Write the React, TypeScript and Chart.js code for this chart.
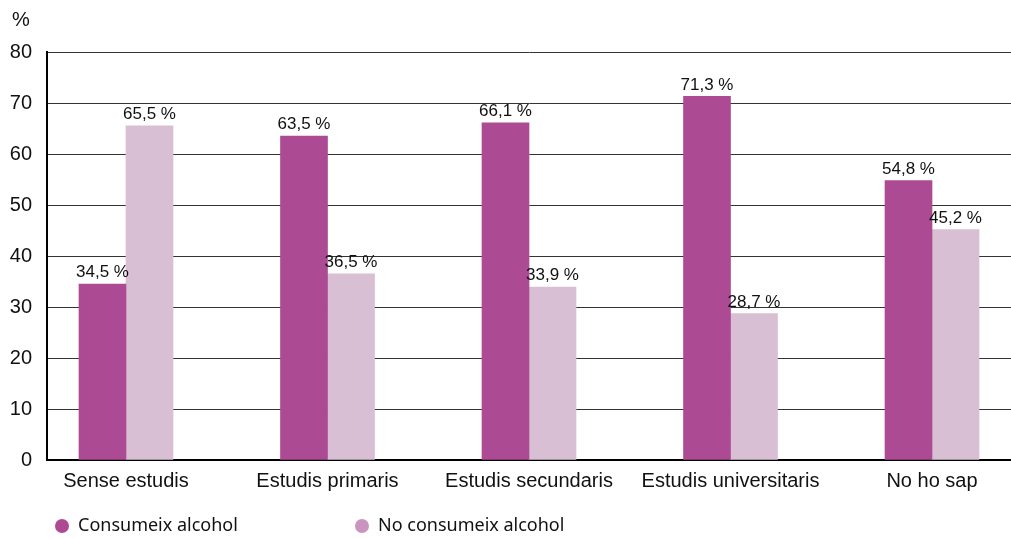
import React, { useEffect, useRef } from 'react';
import { Chart, registerables } from 'chart.js';

Chart.register(...registerables);

const categories = ['Sense estudis', 'Estudis primaris', 'Estudis secundaris', 'Estudis universitaris', 'No ho sap'];
const consumeix = [34.5, 63.5, 66.1, 71.3, 54.8];
const noConsumeix = [65.5, 36.5, 33.9, 28.7, 45.2];
const seriesNames = ['Consumeix alcohol', 'No consumeix alcohol'];
const barColors = ['#AC4B94', '#D9BFD4'];
const legendColors = ['#AC4B94', '#C994BD'];
const yMin = 0;
const yMax = 80;
const yStep = 10;
const unitLabel = '%';

const NUM_FONT = '"Liberation Sans", Arial, Helvetica, sans-serif';
const LEGEND_FONT = '"Noto Sans", "Open Sans", sans-serif';

const fmt = (v: number) => v.toFixed(1).replace('.', ',') + ' %';

const labelsPlugin = {
  id: 'valueLabels',
  afterDatasetsDraw(chart: any) {
    const ctx = chart.ctx;
    ctx.save();
    ctx.font = `17px ${NUM_FONT}`;
    ctx.fillStyle = '#111';
    ctx.textAlign = 'center';
    ctx.textBaseline = 'bottom';
    chart.data.datasets.forEach((ds: any, i: number) => {
      const meta = chart.getDatasetMeta(i);
      meta.data.forEach((el: any, j: number) => {
        ctx.fillText(fmt(ds.data[j]), el.x, el.y - 3);
      });
    });
    ctx.restore();
  },
};

const extrasPlugin = {
  id: 'extras',
  afterDraw(chart: any) {
    const ctx = chart.ctx;
    ctx.save();
    // unit label
    ctx.font = `20px ${NUM_FONT}`;
    ctx.fillStyle = '#111';
    ctx.textAlign = 'left';
    ctx.textBaseline = 'alphabetic';
    ctx.fillText(unitLabel, 12, 26);
    // legend
    const legendY = 526;
    const xs = [62, 362];
    ctx.font = `18px ${LEGEND_FONT}`;
    ctx.textBaseline = 'middle';
    seriesNames.forEach((name, i) => {
      ctx.beginPath();
      ctx.fillStyle = legendColors[i];
      ctx.arc(xs[i], legendY, 7, 0, Math.PI * 2);
      ctx.fill();
      ctx.fillStyle = '#111';
      ctx.fillText(name, xs[i] + 16, legendY);
    });
    ctx.restore();
  },
};

export default function App() {
  const ref = useRef<HTMLCanvasElement | null>(null);

  useEffect(() => {
    if (!ref.current) return;
    const chart = new Chart(ref.current, {
      type: 'bar',
      data: {
        labels: categories,
        datasets: [
          { label: seriesNames[0], data: consumeix, backgroundColor: barColors[0], barThickness: 47 },
          { label: seriesNames[1], data: noConsumeix, backgroundColor: barColors[1], barThickness: 47 },
        ],
      },
      options: {
        responsive: false,
        animation: false,
        layout: { padding: { top: 52, right: 0, bottom: 0, left: 0 } },
        plugins: {
          legend: { display: false },
          tooltip: { enabled: false },
          title: { display: false },
        },
        scales: {
          x: {
            offset: true,
            grid: { display: false, drawTicks: false },
            border: { display: true, color: '#000', width: 2 },
            ticks: {
              color: '#111',
              font: { family: NUM_FONT, size: 20 },
              padding: 9,
              maxRotation: 0,
              autoSkip: false,
            },
            afterBuildTicks: (scale: any) => {
              scale._startValue = -0.392;
              scale._valueRange = categories.length - 1 + 0.784;
            },
            afterFit: (scale: any) => {
              scale.height = 78;
            },
          },
          y: {
            min: yMin,
            max: yMax,
            grid: { color: '#333', lineWidth: 1, drawTicks: false },
            border: { display: true, color: '#000', width: 2 },
            ticks: {
              stepSize: yStep,
              color: '#111',
              font: { family: NUM_FONT, size: 20 },
              padding: 15,
            },
            afterFit: (scale: any) => {
              scale.width = 47;
            },
          },
        },
      },
      plugins: [labelsPlugin, extrasPlugin],
    });
    return () => chart.destroy();
  }, []);

  return (
    <div style={{ position: 'absolute', left: 0, top: 0, width: 1011, height: 538, background: '#fff' }}>
      <canvas ref={ref} width={1011} height={538} />
    </div>
  );
}
